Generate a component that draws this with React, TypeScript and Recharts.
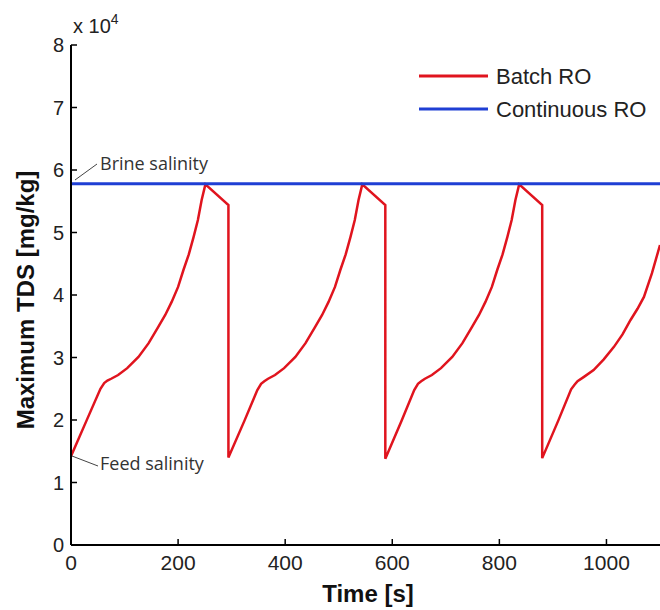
import React from 'react';
import { LineChart, Line, XAxis, YAxis, Legend } from 'recharts';

// Batch RO: time [s] and maximum TDS [mg/kg]
const batchTime = [
  0, 30, 55, 62, 68, 75, 88, 105, 126, 145, 163, 176, 188, 200, 210, 220, 229, 237, 244, 251, 294, 294,
  324, 348, 355, 361, 368, 381, 398, 419, 438, 456, 469, 481, 493, 503, 513, 522, 530, 537, 544, 587, 587,
  617, 641, 648, 654, 661, 674, 691, 712, 731, 749, 762, 774, 786, 796, 806, 815, 823, 830, 837, 880, 880,
  910, 934, 940, 946, 958, 976, 995, 1014, 1030, 1045, 1058, 1070, 1085, 1100,
];
const batchTDS = [
  14200, 20100, 25000, 25900, 26300, 26600, 27200, 28300, 30100, 32300, 34900, 36800, 38900, 41300, 44000, 46500, 49300, 52000, 55200, 57700, 54400, 14000,
  19900, 24800, 25800, 26200, 26600, 27200, 28300, 30100, 32300, 34900, 36800, 38900, 41300, 44000, 46500, 49300, 52000, 55200, 57700, 54400, 13800,
  19800, 24800, 25800, 26200, 26600, 27200, 28300, 30100, 32300, 34900, 36800, 38900, 41300, 44000, 46500, 49300, 52000, 55200, 57700, 54400, 13900,
  19900, 24900, 25600, 26200, 26900, 28000, 29700, 31700, 33700, 36000, 37800, 39700, 43500, 48000,
];

// Continuous RO: constant brine salinity
const continuousTime = [0, 1100];
const continuousTDS = [57800, 57800];

const xTicks = [0, 200, 400, 600, 800, 1000];
const yTicks = [0, 10000, 20000, 30000, 40000, 50000, 60000, 70000, 80000];

const batchData = batchTime.map((t, i) => ({ t, tds: batchTDS[i] }));
const continuousData = continuousTime.map((t, i) => ({ t, tds: continuousTDS[i] }));

const W = 652;
const H = 602;
const TICK_FONT = '"Liberation Sans", Arial, sans-serif';
const NOTE_FONT = '"Open Sans", "Noto Sans", sans-serif';

const YTick = (props: any) => {
  const { x, y, payload } = props;
  return (
    <g>
      <line x1={x + 7} x2={x + 13} y1={y} y2={y} stroke="#000" strokeWidth={1.5} />
      <text x={x} y={y} textAnchor="end" dominantBaseline="central" fontFamily={TICK_FONT} fontSize={20} fill="#222">
        {payload.value / 10000}
      </text>
    </g>
  );
};

const XTick = (props: any) => {
  const { x, y, payload } = props;
  return (
    <g>
      <line x1={x} x2={x} y1={y - 10} y2={y - 16} stroke="#000" strokeWidth={1.5} />
      <text x={x} y={y} dy="0.72em" textAnchor="middle" fontFamily={TICK_FONT} fontSize={21} fill="#222">
        {payload.value}
      </text>
    </g>
  );
};

const EmptyTick = () => <g />;

const renderLegend = (props: any) => {
  const { payload } = props;
  return (
    <svg width={250} height={75}>
      {(payload || []).map((p: any, i: number) => {
        const y = 23 + i * 33;
        return (
          <g key={i}>
            <line x1={6} x2={75} y1={y} y2={y} stroke={p.color} strokeWidth={3} />
            <text x={83} y={y} dominantBaseline="central" fontFamily={TICK_FONT} fontSize={22} fill="#222">
              {p.value}
            </text>
          </g>
        );
      })}
    </svg>
  );
};

export default function App() {
  return (
    <div style={{ position: 'absolute', left: 8, top: 8, width: W, height: H, overflow: 'hidden' }}>
      <LineChart width={W} height={H} margin={{ top: 37, right: 0, bottom: 0, left: 0 }}>
        <XAxis
          xAxisId="main"
          dataKey="t"
          type="number"
          domain={[0, 1100]}
          ticks={xTicks}
          allowDataOverflow
          height={65}
          tickSize={0}
          tickMargin={10}
          tick={<XTick />}
          axisLine={{ stroke: '#000', strokeWidth: 2 }}
        />
        <XAxis
          xAxisId="top"
          orientation="top"
          type="number"
          domain={[0, 1100]}
          ticks={xTicks}
          allowDataOverflow
          height={0}
          mirror
          tickSize={6}
          tick={<EmptyTick />}
          tickLine={{ stroke: '#000', strokeWidth: 1.5 }}
          axisLine={{ stroke: '#000', strokeWidth: 2 }}
        />
        <YAxis
          type="number"
          domain={[0, 80000]}
          ticks={yTicks}
          allowDataOverflow
          width={63}
          tickSize={0}
          tickMargin={7}
          tick={<YTick />}
          axisLine={{ stroke: '#000', strokeWidth: 2 }}
        />
        <Legend
          layout="vertical"
          align="center"
          verticalAlign="middle"
          content={renderLegend}
          wrapperStyle={{ position: 'absolute', left: 405, top: 45, width: 250, height: 75 }}
        />
        <Line
          xAxisId="main"
          data={batchData}
          dataKey="tds"
          name="Batch RO"
          type="linear"
          stroke="#e0141e"
          strokeWidth={2.5}
          dot={false}
          isAnimationActive={false}
        />
        <Line
          xAxisId="main"
          data={continuousData}
          dataKey="tds"
          name="Continuous RO"
          type="linear"
          stroke="#1f3fd4"
          strokeWidth={3}
          dot={false}
          isAnimationActive={false}
        />
      </LineChart>
      <svg width={W} height={H} style={{ position: 'absolute', left: 0, top: 0, pointerEvents: 'none' }}>
        <text x={65} y={25} fontFamily={TICK_FONT} fontSize={20} fill="#222">
          x 10<tspan dy={-9} fontSize={14}>4</tspan>
        </text>
        <line x1={67} y1={172} x2={89} y2={156} stroke="#444" strokeWidth={1} />
        <text x={92} y={162} fontFamily={NOTE_FONT} fontSize={18} fill="#333">Brine salinity</text>
        <line x1={64} y1={448} x2={90} y2={458} stroke="#444" strokeWidth={1} />
        <text x={92} y={462} fontFamily={NOTE_FONT} fontSize={18} fill="#333">Feed salinity</text>
        <text x={360} y={594} textAnchor="middle" fontFamily={TICK_FONT} fontSize={24} fontWeight="bold" fill="#111">
          Time [s]
        </text>
        <text
          x={0}
          y={0}
          transform="translate(17,292) rotate(-90)"
          textAnchor="middle"
          dominantBaseline="central"
          fontFamily={TICK_FONT}
          fontSize={24}
          fontWeight="bold"
          fill="#111"
        >
          Maximum TDS [mg/kg]
        </text>
      </svg>
    </div>
  );
}
